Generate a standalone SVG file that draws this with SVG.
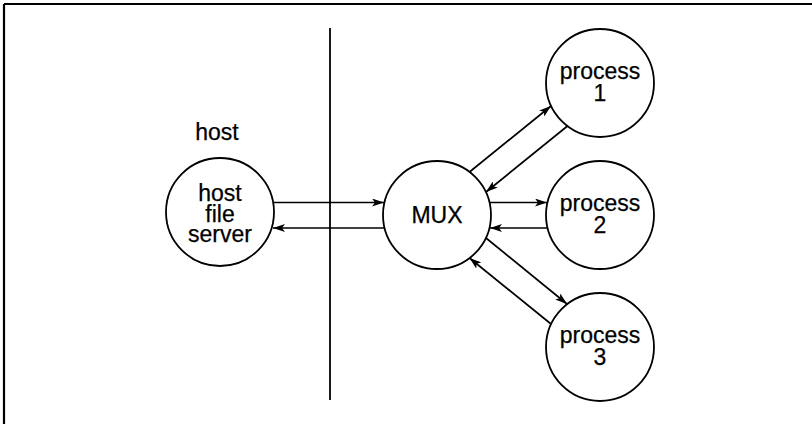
<svg xmlns="http://www.w3.org/2000/svg" width="812" height="424" viewBox="0 0 812 424">
<defs>
<marker id="ah" viewBox="0 0 12 8" refX="12" refY="4" markerWidth="12" markerHeight="8" markerUnits="userSpaceOnUse" orient="auto">
<path d="M0,0 L12,4 L0,8 L3,4 Z" fill="#000"/>
</marker>
<style>
.n{fill:#fff;stroke:#000;stroke-width:1.8}
.t{font-family:"Liberation Sans",Arial,sans-serif;font-size:23px;text-anchor:middle;fill:#000;stroke:#000;stroke-width:0.25}
.c line{stroke:#000;stroke-width:1.7;marker-end:url(#ah)}
</style>
</defs>
<rect width="812" height="424" fill="#fff"/>
<g id="frame" stroke="#000" stroke-width="2.2" fill="none">
<line x1="4" y1="4" x2="812" y2="4"/>
<line x1="4" y1="4" x2="4" y2="424"/>
</g>
<line id="divider" x1="330" y1="28" x2="330" y2="400" stroke="#000" stroke-width="1.8"/>
<text id="host-label" class="t" x="217" y="140">host</text>
<g class="c" id="connectors">
<line x1="272.5" y1="202.5" x2="384" y2="202.5"/>
<line x1="384.5" y1="228" x2="273" y2="228"/>
<line x1="469.5" y1="172" x2="551" y2="106"/>
<line x1="567.5" y1="126" x2="486" y2="192"/>
<line x1="489.5" y1="202.5" x2="547" y2="202.5"/>
<line x1="547.5" y1="228" x2="490" y2="228"/>
<line x1="486" y1="238" x2="567" y2="304"/>
<line x1="551" y1="324" x2="469.5" y2="258"/>
</g>
<g id="hostfs"><circle class="n" cx="220" cy="212" r="54"/><text class="t" x="220" y="201">host</text><text class="t" x="220" y="222">file</text><text class="t" x="220" y="242">server</text></g>
<g id="mux"><circle class="n" cx="437" cy="215" r="54"/><text class="t" x="437" y="223">MUX</text></g>
<g id="p1"><circle class="n" cx="600" cy="83" r="54"/><text class="t" x="600" y="79">process</text><text class="t" x="600" y="101">1</text></g>
<g id="p2"><circle class="n" cx="600" cy="215" r="54"/><text class="t" x="600" y="211">process</text><text class="t" x="600" y="233">2</text></g>
<g id="p3"><circle class="n" cx="600" cy="347" r="54"/><text class="t" x="600" y="343">process</text><text class="t" x="600" y="365">3</text></g>
</svg>
